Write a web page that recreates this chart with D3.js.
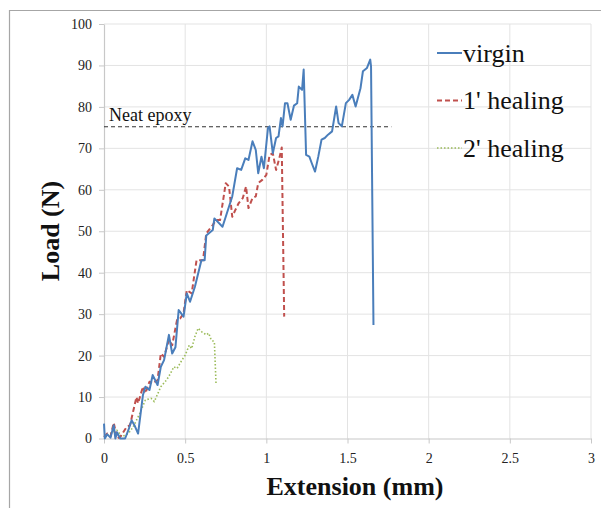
<!DOCTYPE html>
<html>
<head>
<meta charset="utf-8">
<script src="https://cdn.jsdelivr.net/npm/d3@7"></script>
<style>
  html, body { margin: 0; padding: 0; background: #fff; }
  svg { display: block; }
</style>
</head>
<body>
<svg id="chart" width="601" height="508"></svg>
<script>
// ---- data ----
const xTicks = [0, 0.5, 1, 1.5, 2, 2.5, 3];
const yTicks = [0, 10, 20, 30, 40, 50, 60, 70, 80, 90, 100];
const seriesNames = ["virgin", "1' healing", "2' healing"];
const neatEpoxyLoad = 75.2;
const neatEpoxyExtent = [0, 1.77];

const virginX = [0, 0.005, 0.02, 0.04, 0.06, 0.07, 0.08, 0.1, 0.13, 0.15, 0.17, 0.19, 0.21, 0.24, 0.255, 0.28, 0.30, 0.33, 0.35, 0.37, 0.40, 0.42, 0.44, 0.46, 0.49, 0.51, 0.53, 0.56, 0.60, 0.62, 0.63, 0.67, 0.68, 0.73, 0.75, 0.79, 0.82, 0.845, 0.87, 0.89, 0.915, 0.935, 0.95, 0.97, 0.985, 1.01, 1.02, 1.04, 1.06, 1.075, 1.09, 1.10, 1.115, 1.13, 1.15, 1.17, 1.19, 1.20, 1.22, 1.23, 1.245, 1.265, 1.28, 1.30, 1.32, 1.34, 1.36, 1.38, 1.405, 1.43, 1.445, 1.465, 1.49, 1.51, 1.53, 1.55, 1.58, 1.595, 1.62, 1.64, 1.645, 1.66];
const virginY = [3.6, 0, 1.0, 0.2, 3.2, 0, 1.5, 0, 0, 2.0, 4.4, 3.0, 1.2, 10.5, 12.5, 11.7, 15.3, 12.9, 17.3, 18.9, 25, 20.5, 22, 31, 29.4, 35, 33, 36.6, 43, 43, 49, 50.3, 53.1, 51.1, 53.5, 58.4, 65.2, 64.8, 67.6, 67.2, 71.7, 69.6, 64, 68, 65.2, 74.9, 75.3, 68.8, 72.5, 72.9, 77.3, 75.3, 80.9, 80.9, 76.9, 80.3, 80.9, 84.9, 84.1, 89, 68.4, 68, 66.4, 64.4, 68, 72.1, 72.5, 73.3, 74.1, 80.1, 76.1, 75.3, 80.9, 81.7, 82.9, 80.1, 84.5, 88.6, 89.4, 91.4, 89.8, 27.4];

const healing1X = [0, 0.02, 0.04, 0.06, 0.08, 0.1, 0.14, 0.16, 0.2, 0.21, 0.24, 0.255, 0.28, 0.30, 0.33, 0.35, 0.37, 0.40, 0.42, 0.45, 0.47, 0.49, 0.51, 0.54, 0.57, 0.61, 0.63, 0.67, 0.69, 0.715, 0.75, 0.77, 0.79, 0.81, 0.83, 0.855, 0.875, 0.89, 0.915, 0.935, 0.95, 0.975, 1.0, 1.02, 1.04, 1.06, 1.08, 1.095, 1.11];
const healing1Y = [0.4, 1.2, 0.5, 3.8, 0, 0.4, 2.8, 3.2, 10, 8.5, 12.5, 10.9, 13.7, 13.3, 14.1, 20.5, 19.7, 23.8, 22.5, 28.6, 29, 30.2, 35.8, 35, 43, 43, 49.5, 51.5, 52.7, 52.7, 61.6, 60.8, 53.5, 55.2, 56.8, 58, 60.8, 55.6, 58, 58.4, 61.6, 62.4, 63.6, 68.4, 68.8, 64.8, 67.6, 70.2, 29.4];

const healing2X = [0, 0.04, 0.08, 0.11, 0.15, 0.18, 0.22, 0.255, 0.29, 0.31, 0.35, 0.385, 0.41, 0.43, 0.45, 0.48, 0.50, 0.525, 0.54, 0.56, 0.58, 0.60, 0.63, 0.645, 0.66, 0.68, 0.69];
const healing2Y = [0.4, 1.2, 2.0, 0.4, 1.2, 2.8, 6, 9.3, 9.7, 8.9, 12.5, 14.1, 15.7, 17.3, 16.9, 18.9, 20.1, 22.5, 21.7, 24.6, 26.6, 25.8, 25, 25.4, 23.8, 23.3, 13.3];

// ---- layout ----
const FONT = "'Liberation Serif', 'Times New Roman', Times, 'DejaVu Serif', serif";
const svg = d3.select("#chart");
const plot = { left: 104, right: 591, top: 24, bottom: 438.5 };
const x = d3.scaleLinear().domain([0, 3]).range([plot.left, plot.right]);
const y = d3.scaleLinear().domain([0, 100]).range([plot.bottom, plot.top]);

// outer frame
svg.append("path")
  .attr("d", "M9.5,508 L9.5,10.5 L601,10.5")
  .attr("fill", "none").attr("stroke", "#a6a6a6").attr("stroke-width", 1.2);

// gridlines
const grid = svg.append("g");
grid.selectAll("line.h").data(yTicks.slice(1)).join("line")
  .attr("x1", plot.left).attr("x2", plot.right)
  .attr("y1", d => y(d)).attr("y2", d => y(d))
  .attr("stroke", "#e3e3e3").attr("stroke-width", 1);
grid.selectAll("line.v").data(xTicks.slice(1)).join("line")
  .attr("x1", d => x(d)).attr("x2", d => x(d))
  .attr("y1", plot.top).attr("y2", plot.bottom)
  .attr("stroke", "#e3e3e3").attr("stroke-width", 1);

// axes
const xAxis = svg.append("g").attr("transform", `translate(0,${plot.bottom})`)
  .call(d3.axisBottom(x).tickValues(xTicks).tickFormat(d3.format("~g")).tickSize(5).tickSizeOuter(0));
const yAxis = svg.append("g").attr("transform", `translate(${plot.left},0)`)
  .call(d3.axisLeft(y).tickValues(yTicks).tickSize(5).tickSizeOuter(0));
[xAxis, yAxis].forEach(g => {
  g.attr("font-family", FONT).attr("font-size", 14);
  g.select(".domain").attr("stroke", "#c8c8c8").attr("stroke-width", 1.2);
  g.selectAll(".tick line").attr("stroke", "#c8c8c8");
  g.selectAll(".tick text").attr("fill", "#222");
});
xAxis.selectAll(".tick text").attr("dy", "0").attr("y", 24);
yAxis.selectAll(".tick text").attr("x", -12);

// axis titles
svg.append("text").attr("x", 355).attr("y", 495).attr("text-anchor", "middle")
  .attr("font-family", FONT).attr("font-size", 26).attr("font-weight", "bold").attr("fill", "#111")
  .text("Extension (mm)");
svg.append("text").attr("transform", "translate(59,231) rotate(-90)").attr("text-anchor", "middle")
  .attr("font-family", FONT).attr("font-size", 26).attr("font-weight", "bold").attr("fill", "#111")
  .text("Load (N)");

// neat epoxy reference
svg.append("line")
  .attr("x1", x(neatEpoxyExtent[0])).attr("x2", x(neatEpoxyExtent[1]))
  .attr("y1", y(neatEpoxyLoad)).attr("y2", y(neatEpoxyLoad))
  .attr("stroke", "#333").attr("stroke-width", 1.1).attr("stroke-dasharray", "4,3");
svg.append("text").attr("x", 109).attr("y", 121)
  .attr("font-family", FONT).attr("font-size", 18).attr("fill", "#111").text("Neat epoxy");

// series
const styles = [
  { color: "#4a7ebb", width: 2, dash: null },
  { color: "#c0504d", width: 2, dash: "5,3" },
  { color: "#9bbb59", width: 1.6, dash: "1.5,2" }
];
const seriesData = [
  d3.zip(virginX, virginY),
  d3.zip(healing1X, healing1Y),
  d3.zip(healing2X, healing2Y)
];
const line = d3.line().x(d => x(d[0])).y(d => y(d[1]));
[2, 1, 0].forEach(i => {
  svg.append("path").datum(seriesData[i])
    .attr("d", line).attr("fill", "none")
    .attr("stroke", styles[i].color).attr("stroke-width", styles[i].width)
    .attr("stroke-linejoin", "round")
    .attr("stroke-dasharray", styles[i].dash);
});

// legend
const legend = svg.append("g");
seriesNames.forEach((name, i) => {
  const ly = 53 + i * 47.5;
  legend.append("line").attr("x1", 437).attr("x2", 462).attr("y1", ly).attr("y2", ly)
    .attr("stroke", styles[i].color).attr("stroke-width", styles[i].width)
    .attr("stroke-dasharray", styles[i].dash);
  legend.append("text").attr("x", 463).attr("y", ly + 8.5)
    .attr("font-family", FONT).attr("font-size", 26).attr("fill", "#111").text(name);
});
</script>
</body>
</html>
